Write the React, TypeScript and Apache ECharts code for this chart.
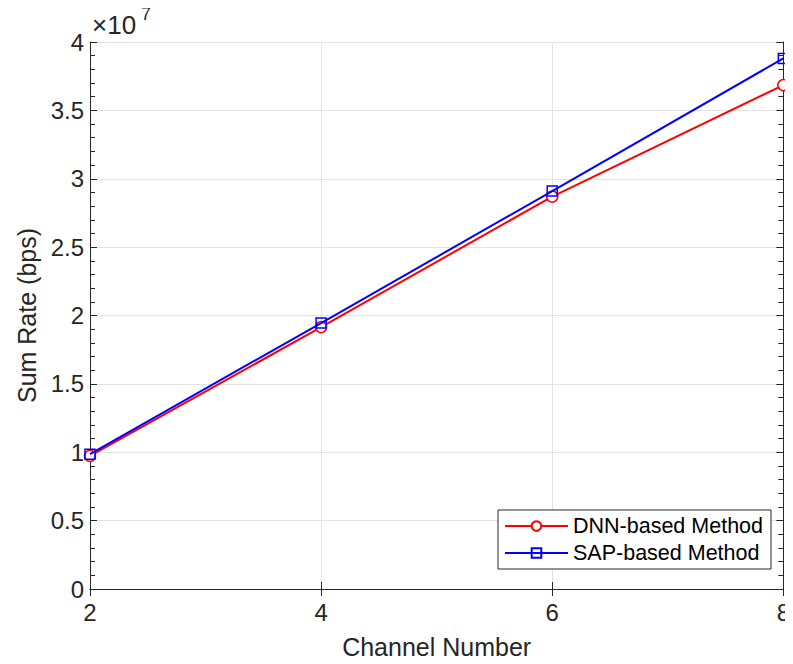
import React, { useEffect, useRef } from "react";
import * as echarts from "echarts";

const channelNumbers = [2, 4, 6, 8];
const dnnRates = [9.74e6, 1.915e7, 2.87e7, 3.685e7];
const sapRates = [9.86e6, 1.945e7, 2.91e7, 3.88e7];
const seriesNames = ["DNN-based Method", "SAP-based Method"];

const FONT = "Liberation Sans, Arial, Helvetica, sans-serif";
const AXIS_COLOR = "#262626";

export default function App() {
  const ref = useRef<HTMLDivElement>(null);
  useEffect(() => {
    if (!ref.current) return;
    const chart = echarts.init(ref.current, null, { renderer: "svg" });
    const tickBase = {
      axisLine: { show: true, lineStyle: { color: AXIS_COLOR, width: 1 } },
      axisTick: { show: true, inside: true, length: 7, lineStyle: { color: AXIS_COLOR } },
    };
    chart.setOption({
      animation: false,
      backgroundColor: "#ffffff",
      grid: { left: 90, right: 5, top: 42, bottom: 73, containLabel: false },
      xAxis: [
        {
          type: "value",
          min: 2,
          max: 8,
          interval: 2,
          name: "Channel Number",
          nameLocation: "middle",
          nameGap: 45,
          nameTextStyle: { fontFamily: FONT, fontSize: 25, color: AXIS_COLOR },
          axisLabel: { fontFamily: FONT, fontSize: 24, color: AXIS_COLOR, margin: 11 },
          splitLine: { show: true, lineStyle: { color: "#e3e3e3", width: 1 } },
          ...tickBase,
        },
        {
          type: "value",
          position: "top",
          min: 2,
          max: 8,
          interval: 2,
          axisLabel: { show: false },
          splitLine: { show: false },
          ...tickBase,
        },
      ],
      yAxis: [
        {
          type: "value",
          min: 0,
          max: 4e7,
          interval: 5e6,
          name: "Sum Rate (bps)",
          nameLocation: "middle",
          nameGap: 50,
          nameTextStyle: { fontFamily: FONT, fontSize: 25, color: AXIS_COLOR },
          axisLabel: {
            fontFamily: FONT,
            fontSize: 24,
            color: AXIS_COLOR,
            margin: 6,
            formatter: (v: number) => String(Math.round((v / 1e7) * 10) / 10),
          },
          splitLine: { show: true, lineStyle: { color: "#e3e3e3", width: 1 } },
          minorTick: { show: true, splitNumber: 5, length: 5, lineStyle: { color: AXIS_COLOR } },
          ...tickBase,
        },
        {
          type: "value",
          position: "right",
          min: 0,
          max: 4e7,
          interval: 5e6,
          axisLabel: { show: false },
          splitLine: { show: false },
          minorTick: { show: true, splitNumber: 5, length: 5, lineStyle: { color: AXIS_COLOR } },
          ...tickBase,
        },
      ],
      legend: {
        left: 498,
        top: 510,
        orient: "vertical",
        backgroundColor: "#ffffff",
        borderColor: AXIS_COLOR,
        borderWidth: 1,
        borderRadius: 0,
        padding: [5, 8, 5, 6],
        itemGap: 5,
        itemWidth: 63,
        itemHeight: 12,
        textStyle: { fontFamily: FONT, fontSize: 21.5, color: "#000000" },
        data: seriesNames,
      },
      graphic: [
        {
          type: "text",
          left: 92,
          top: 12,
          style: { text: "×10", font: `26px ${FONT}`, fill: AXIS_COLOR },
        },
        {
          type: "text",
          left: 141,
          top: 5,
          style: { text: "7", font: `18px ${FONT}`, fill: AXIS_COLOR },
        },
      ],
      series: [
        {
          name: seriesNames[0],
          type: "line",
          data: channelNumbers.map((x, i) => [x, dnnRates[i]]),
          symbol: "circle",
          symbolSize: 11,
          itemStyle: { color: "#ffffff", borderColor: "#ff0000", borderWidth: 1.5 },
          lineStyle: { color: "#ff0000", width: 2 },
          color: "#ff0000",
          z: 3,
        },
        {
          name: seriesNames[1],
          type: "line",
          data: channelNumbers.map((x, i) => [x, sapRates[i]]),
          symbol: "rect",
          symbolSize: 10,
          itemStyle: { color: "rgba(255,255,255,0)", borderColor: "#0000ff", borderWidth: 1.5 },
          lineStyle: { color: "#0000ff", width: 2 },
          color: "#0000ff",
          z: 4,
        },
      ],
    });
    return () => chart.dispose();
  }, []);
  return <div ref={ref} style={{ width: 793, height: 664, margin: -8 }} />;
}
